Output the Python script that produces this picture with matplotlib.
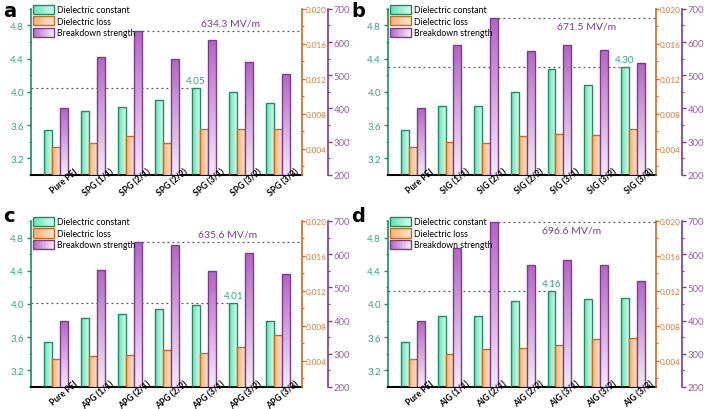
import numpy as np
import matplotlib
matplotlib.use("Agg")
import matplotlib.pyplot as plt
from matplotlib.colors import LinearSegmentedColormap
from matplotlib.patches import Patch, Rectangle
from matplotlib.legend_handler import HandlerBase
from matplotlib.ticker import MultipleLocator, FormatStrFormatter
import matplotlib.transforms as mtransforms

plt.rcParams['font.family'] = ['Lato', 'DejaVu Sans']

# ---------------------------------------------------------------
# data
# ---------------------------------------------------------------
labels_a = ['Pure PEI', 'SPG (1/1)', 'SPG (2/1)', 'SPG (2/2)', 'SPG (3/1)', 'SPG (3/2)', 'SPG (3/3)']
dc_a = [3.54, 3.77, 3.82, 3.90, 4.05, 4.00, 3.87]
loss_a = [0.0042, 0.0047, 0.0054, 0.0047, 0.0062, 0.0062, 0.0063]
bd_a = [400, 555, 634.3, 549, 606, 540, 505]

labels_b = ['Pure PEI', 'SIG (1/1)', 'SIG (2/1)', 'SIG (2/2)', 'SIG (3/1)', 'SIG (3/2)', 'SIG (3/3)']
dc_b = [3.54, 3.83, 3.83, 4.00, 4.27, 4.08, 4.30]
loss_b = [0.0042, 0.0048, 0.0046, 0.0055, 0.0057, 0.0056, 0.0063]
bd_b = [400, 591, 671.5, 574, 591, 575, 537]

labels_c = ['Pure PEI', 'APG (1/1)', 'APG (2/1)', 'APG (2/2)', 'APG (3/1)', 'APG (3/2)', 'APG (3/3)']
dc_c = [3.54, 3.83, 3.88, 3.94, 3.99, 4.01, 3.80]
loss_c = [0.0042, 0.0045, 0.0047, 0.0052, 0.0049, 0.0056, 0.0069]
bd_c = [400, 553, 635.6, 628, 549, 603, 539]

labels_d = ['Pure PEI', 'AIG (1/1)', 'AIG (2/1)', 'AIG (2/2)', 'AIG (3/1)', 'AIG (3/2)', 'AIG (3/3)']
dc_d = [3.54, 3.86, 3.86, 4.04, 4.16, 4.06, 4.07]
loss_d = [0.0042, 0.0048, 0.0053, 0.0055, 0.0058, 0.0065, 0.0066]
bd_d = [400, 619, 696.6, 566, 583, 567, 520]

# axis ranges
DC_LIM = (3.0, 5.0)
LOSS_LIM = (0.001, 0.020)
BD_LIM = (200, 700)

# colours
G_EDGE, G_LIGHT, G_DARK, G_TXT = '#1e8c60', '#d2f9ea', '#66e3b8', '#34a679'
O_EDGE, O_LIGHT, O_DARK, O_TXT = '#cc6a1e', '#fde4c9', '#f6b072', '#cf7a33'
P_EDGE, P_LIGHT, P_DARK, P_TXT = '#7d3a8e', '#f4eaf7', '#b466c6', '#9560a6'

cm_g = LinearSegmentedColormap.from_list('g', [G_DARK, G_LIGHT])
cm_o = LinearSegmentedColormap.from_list('o', [O_DARK, O_LIGHT])
cm_p = LinearSegmentedColormap.from_list('p', [P_LIGHT, P_DARK])

BAR_W = 0.216
XLIM = (-0.68, 6.64)


def gradient_bars(ax, bars, cmap, vertical=False):
    # paint each bar with a gradient image clipped to its outline
    for b in bars:
        x0, y0, w, h = b.get_x(), b.get_y(), b.get_width(), b.get_height()
        if vertical:
            arr = np.linspace(1, 0, 64)[:, None]
        else:
            arr = np.linspace(0, 1, 64)[None, :]
        im = ax.imshow(arr, cmap=cmap, vmin=0, vmax=1, extent=[x0, x0 + w, y0, y0 + h],
                       aspect='auto', interpolation='bilinear', zorder=2)
        im.set_clip_path(b)
        b.set_facecolor('none')
        b.set_zorder(3)


class GradHandler(HandlerBase):
    def __init__(self, cmap, edge, reverse=False):
        super().__init__()
        self.cmap, self.edge, self.reverse = cmap, edge, reverse

    def create_artists(self, legend, orig_handle, xdescent, ydescent, width, height, fontsize, trans):
        arts = []
        n = 14
        for k in range(n):
            t = k / (n - 1)
            col = self.cmap(1 - t if self.reverse else t)
            arts.append(Rectangle((-xdescent + width * k / n, -ydescent), width / n + 0.3, height,
                                  facecolor=col, edgecolor='none', transform=trans))
        arts.append(Rectangle((-xdescent, -ydescent), width, height, facecolor='none',
                              edgecolor=self.edge, lw=1.0, transform=trans))
        return arts


def draw_panel(ax, labels, dc, loss, bd, bd_tx):
    x = np.arange(len(labels))
    ax2 = ax.twinx()
    ax3 = ax.twinx()

    b1 = ax.bar(x - BAR_W, np.array(dc) - DC_LIM[0], BAR_W, bottom=DC_LIM[0],
                edgecolor=G_EDGE, linewidth=1.0)
    b2 = ax2.bar(x, np.array(loss) - LOSS_LIM[0], BAR_W, bottom=LOSS_LIM[0],
                 edgecolor=O_EDGE, linewidth=1.0)
    b3 = ax3.bar(x + BAR_W, np.array(bd) - BD_LIM[0], BAR_W, bottom=BD_LIM[0],
                 edgecolor=P_EDGE, linewidth=1.0)
    gradient_bars(ax, b1, cm_g)
    gradient_bars(ax2, b2, cm_o)
    gradient_bars(ax3, b3, cm_p, vertical=True)

    # highlight max dielectric constant
    i = int(np.argmax(dc))
    ax.hlines(dc[i], XLIM[0], i - 1.5 * BAR_W, colors='#555555', linestyles=(0, (1.5, 2.5)), lw=0.9)
    ax3.text(i - BAR_W, dc[i] + 0.035, f'{dc[i]:.2f}', color=G_TXT, fontsize=7.2,
             ha='center', va='bottom', transform=ax.transData, zorder=10)

    # highlight max breakdown strength
    j = int(np.argmax(bd))
    ax3.hlines(bd[j], j + 1.5 * BAR_W, XLIM[1], colors='#555555', linestyles=(0, (1.5, 2.5)), lw=0.9)
    if bd[j] > 650:
        ax3.text(bd_tx, bd[j] - 10, f'{bd[j]:.1f} MV/m', color=P_EDGE, fontsize=7.5, ha='center', va='top')
    else:
        ax3.text(bd_tx, bd[j] + 10, f'{bd[j]:.1f} MV/m', color=P_EDGE, fontsize=7.5, ha='center', va='bottom')

    for a in (ax, ax2, ax3):
        a.set_xlim(*XLIM)
        a.set_xticks([])
        a.spines['top'].set_visible(False)
    ax.set_ylim(*DC_LIM)
    ax2.set_ylim(*LOSS_LIM)
    ax3.set_ylim(*BD_LIM)

    ax.spines['right'].set_visible(False)
    ax.spines['left'].set_color(G_EDGE)
    ax.spines['left'].set_linewidth(1.2)
    ax.spines['bottom'].set_linewidth(1.5)
    ax.set_yticks([3.2, 3.6, 4.0, 4.4, 4.8])
    ax.yaxis.set_minor_locator(MultipleLocator(0.2))
    ax.yaxis.set_major_formatter(FormatStrFormatter('%.1f'))
    ax.tick_params(axis='y', colors=G_EDGE, labelcolor=G_TXT, labelsize=7, length=3, width=1, pad=2)
    ax.tick_params(axis='y', which='minor', colors=G_EDGE, length=1.5, width=0.8)

    for a in (ax2, ax3):
        a.spines['left'].set_visible(False)
        a.spines['bottom'].set_visible(False)
    ax2.spines['right'].set_color(O_EDGE)
    ax2.spines['right'].set_linewidth(1.2)
    ax2.set_yticks([0.004, 0.008, 0.012, 0.016, 0.020])
    ax2.yaxis.set_minor_locator(MultipleLocator(0.002))
    ax2.yaxis.set_major_formatter(FormatStrFormatter('%.3f'))
    ax2.tick_params(axis='y', colors=O_EDGE, labelcolor=O_TXT, labelsize=5.9, length=2, width=1, pad=0.6)
    ax2.tick_params(axis='y', which='minor', colors=O_EDGE, length=1.2, width=0.8)

    # purple axis sits ~26 px right of the orange one (outward is in points)
    ax3.spines['right'].set_position(('outward', 26 * 72 / 100))
    ax3.spines['right'].set_color(P_EDGE)
    ax3.spines['right'].set_linewidth(1.2)
    ax3.set_yticks([200, 300, 400, 500, 600, 700])
    ax3.yaxis.set_minor_locator(MultipleLocator(50))
    ax3.tick_params(axis='y', colors=P_EDGE, labelcolor=P_TXT, labelsize=6.8, length=3, width=1, pad=1)
    ax3.tick_params(axis='y', which='minor', colors=P_EDGE, length=1.5, width=0.8)

    # category labels drawn on the top axes so they sit over the bars
    tr = mtransforms.blended_transform_factory(ax3.transData, ax3.transAxes)
    for k, lab in enumerate(labels):
        ax3.text(k + 0.46, 0.05, lab, transform=tr, rotation=40, rotation_mode='anchor',
                 ha='right', va='top', fontsize=6.2, fontweight='bold', zorder=10, clip_on=False)

    h1 = Patch(label='Dielectric constant')
    h2 = Patch(label='Dielectric loss')
    h3 = Patch(label='Breakdown strength')
    ax3.legend(handles=[h1, h2, h3], loc='upper left', bbox_to_anchor=(0.006, 1.025),
               frameon=False, fontsize=6.3, borderpad=0, borderaxespad=0,
               handlelength=2.4, handleheight=1.25, labelspacing=0.22, handletextpad=0.4,
               handler_map={h1: GradHandler(cm_g, G_EDGE), h2: GradHandler(cm_o, O_EDGE),
                            h3: GradHandler(cm_p, P_EDGE, reverse=True)})
    return ax3


fig = plt.figure(figsize=(7.04, 4.10), dpi=100)
ax_a = fig.add_axes([0.044, 0.571, 0.385, 0.405])
ax_b = fig.add_axes([0.551, 0.571, 0.381, 0.405])
ax_c = fig.add_axes([0.044, 0.0537, 0.385, 0.405])
ax_d = fig.add_axes([0.551, 0.0537, 0.381, 0.405])

draw_panel(ax_a, labels_a, dc_a, loss_a, bd_a, 4.7)
draw_panel(ax_b, labels_b, dc_b, loss_b, bd_b, 4.73)
draw_panel(ax_c, labels_c, dc_c, loss_c, bd_c, 4.62)
draw_panel(ax_d, labels_d, dc_d, loss_d, bd_d, 4.32)

for letter, (fx, fy) in zip('abcd', [(0.004, 0.995), (0.499, 0.995), (0.004, 0.495), (0.499, 0.495)]):
    fig.text(fx, fy, letter, fontsize=14, fontweight='bold', ha='left', va='top',
             family=['DejaVu Sans'])

fig.savefig('out.png', dpi=100)
